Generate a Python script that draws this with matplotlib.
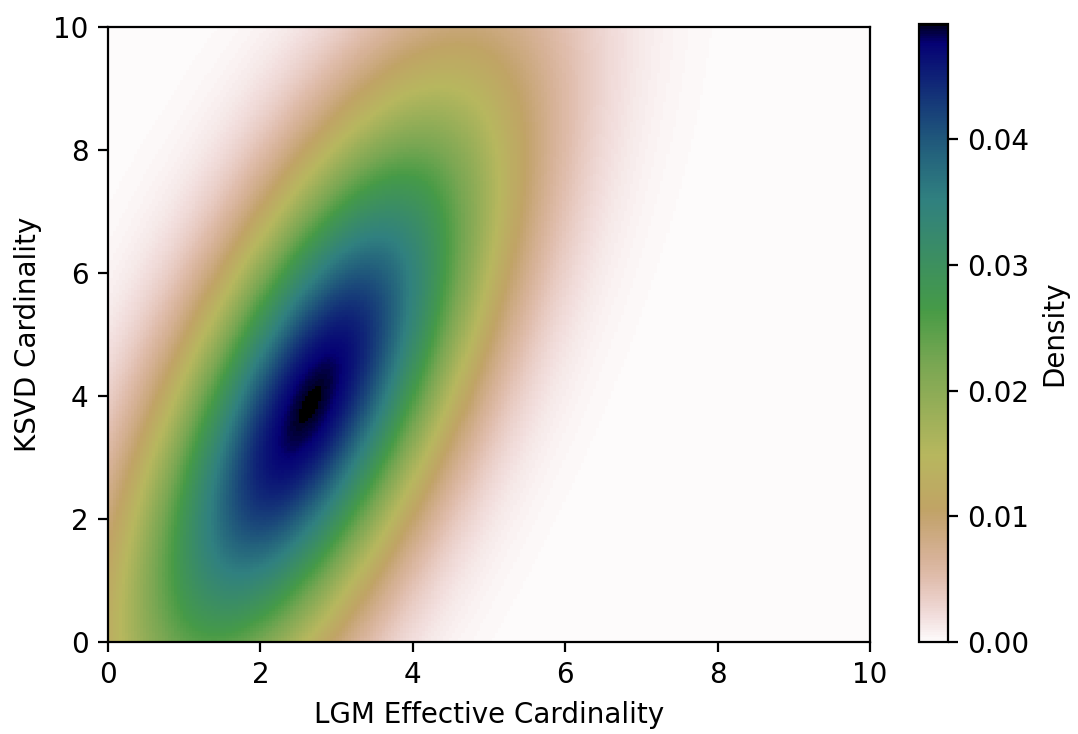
import matplotlib
matplotlib.use("Agg")
import matplotlib.pyplot as plt
import numpy as np

# fitted bivariate normal, renormalised over the shown box
mean = [2.65, 3.85]
sd_y = 3.35
sd_x_given_y = 1.17
slope_x_on_y = 0.33
x_range = [0, 10]
y_range = [0, 10]
n_grid = 250

cov_xy = slope_x_on_y * sd_y ** 2
var_x = sd_x_given_y ** 2 + slope_x_on_y ** 2 * sd_y ** 2
cov = np.array([[var_x, cov_xy], [cov_xy, sd_y ** 2]])

xs = np.linspace(x_range[0], x_range[1], n_grid)
ys = np.linspace(y_range[0], y_range[1], n_grid)
X, Y = np.meshgrid(xs, ys)
d = np.stack([X - mean[0], Y - mean[1]], axis=-1)
inv = np.linalg.inv(cov)
q = np.einsum('...i,ij,...j->...', d, inv, d)
Z = np.exp(-0.5 * q)
cell = (xs[1] - xs[0]) * (ys[1] - ys[0])
Z = Z / (Z.sum() * cell)

fig = plt.figure(figsize=(10.78 / 2, 7.34 / 2), dpi=200)
ax = fig.add_axes([108 / 1078, 92 / 734, 762 / 1078, 615 / 734])
cax = fig.add_axes([919 / 1078, 92 / 734, 29 / 1078, 618 / 734])

mesh = ax.pcolormesh(X, Y, Z, cmap='gist_earth_r', shading='auto', vmin=0)
ax.set_xlim(x_range)
ax.set_ylim(y_range)
ax.set_xlabel('LGM Effective Cardinality')
ax.set_ylabel('KSVD Cardinality')

cb = fig.colorbar(mesh, cax=cax)
cb.set_label('Density')
print(Z.max())

fig.savefig('out.png', dpi=200)
